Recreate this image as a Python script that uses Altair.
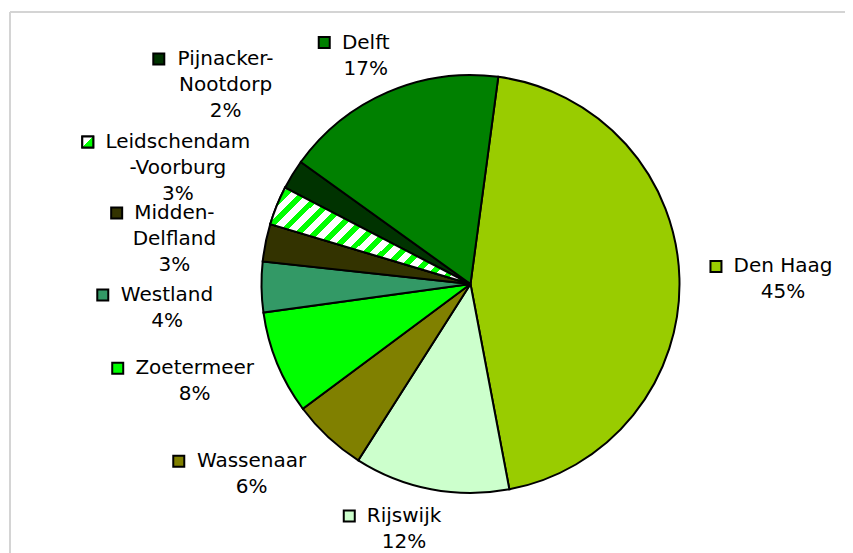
import math
import altair as alt
import pandas as pd

# ---------------- data ----------------
names = ["Den Haag", "Rijswijk", "Wassenaar", "Zoetermeer", "Westland",
         "Midden-Delfland", "Leidschendam-Voorburg", "Pijnacker-Nootdorp", "Delft"]
shares = [44.9, 12.0, 5.8, 8.0, 3.9, 2.9, 3.0, 2.3, 17.2]
label_names = ["Den Haag", "Rijswijk", "Wassenaar", "Zoetermeer", "Westland",
               "Midden-\nDelfland", "Leidschendam\n-Voorburg", "Pijnacker-\nNootdorp", "Delft"]

# ---------------- style / layout ----------------
colors = ["#99CC00", "#CCFFCC", "#808000", "#00FF00", "#339966",
          "#333300", "#FFFFFF", "#003300", "#008000"]
label_shift_deg = [0.7, 4.3, 6.1, 2.8, -3.7, -2.8, -0.4, 7.5, -1.3]
label_radius = [312.5, 253.9, 290, 292.5, 304.4, 299.5, 314.8, 315.6, 251.3]

W, H = 837, 545
CX, CY = 462.5, 276
R = 209
START = math.radians(7.64)
FS = 20
LH = 26
GREEN = "#00FF00"

# approximate DejaVu Sans advance widths (em)
EM = {' ': 0.318, '-': 0.361, '%': 0.950, 'A': 0.684, 'D': 0.770, 'H': 0.752,
      'L': 0.557, 'M': 0.863, 'N': 0.748, 'P': 0.603, 'R': 0.695, 'V': 0.684,
      'W': 0.989, 'Z': 0.685, 'a': 0.613, 'b': 0.635, 'c': 0.550, 'd': 0.635,
      'e': 0.615, 'f': 0.352, 'g': 0.635, 'h': 0.634, 'i': 0.278, 'j': 0.278,
      'k': 0.579, 'l': 0.278, 'm': 0.974, 'n': 0.634, 'o': 0.612, 'p': 0.635,
      'r': 0.411, 's': 0.521, 't': 0.392, 'u': 0.634, 'w': 0.818}


def text_width(s):
    return sum(EM.get(c, 0.636) for c in s) * FS


texts, w1, nlines = [], [], []
for lab, v in zip(label_names, shares):
    t = f"{lab}\n{round(v)}%"
    texts.append(t)
    w1.append(text_width(t.split("\n")[0]))
    nlines.append(len(t.split("\n")))

df = pd.DataFrame({
    "name": names,
    "value": shares,
    "order": list(range(len(names))),
    "text": texts,
    "w1": w1,
    "nlines": nlines,
    "shift": label_shift_deg,
    "r": label_radius,
})

color_scale = alt.Scale(domain=names, range=colors)
theta_scale = alt.Scale(domain=[0, 100], range=[START, START + 2 * math.pi])

base = alt.Chart(df)

pie = base.mark_arc(outerRadius=R, stroke="black", strokeWidth=2).encode(
    theta=alt.Theta("value:Q", stack=True, scale=theta_scale),
    order=alt.Order("order:Q"),
    color=alt.Color("name:N", scale=color_scale, legend=None),
    x=alt.value(CX),
    y=alt.value(CY),
)

# diagonal stripes for Leidschendam-Voorburg
N = 17
stops = []
for i in range(N):
    a, m, b = i / N, (i + 0.45) / N, (i + 1) / N
    stops += [alt.GradientStop(color=GREEN, offset=a),
              alt.GradientStop(color=GREEN, offset=m),
              alt.GradientStop(color="#FFFFFF", offset=m),
              alt.GradientStop(color="#FFFFFF", offset=b)]
stripe = alt.LinearGradient(gradient="linear", stops=stops, x1=0, y1=0, x2=1.2, y2=0.58)

stripes = base.mark_arc(outerRadius=R, stroke="black", strokeWidth=2, fill=stripe).encode(
    theta=alt.Theta("value:Q", stack=True, scale=theta_scale),
    order=alt.Order("order:Q"),
    opacity=alt.condition(alt.datum.name == "Leidschendam-Voorburg", alt.value(1), alt.value(0)),
    x=alt.value(CX),
    y=alt.value(CY),
)

lab = base.transform_window(
    cum="sum(value)", sort=[alt.SortField("order")], frame=[None, 0]
).transform_calculate(
    ang=f"{START} + 2*PI*(datum.cum - datum.value/2)/100 + datum.shift*PI/180"
).transform_calculate(
    lx=f"{CX} + datum.r*sin(datum.ang)",
    ly=f"{CY} - datum.r*cos(datum.ang)",
).transform_calculate(
    kx="datum.lx - datum.w1/2 - 11 - 6.5",
    ky=f"datum.ly - (datum.nlines-1)*{LH / 2}",
)

labels = lab.mark_text(
    font="DejaVu Sans", fontSize=FS, lineHeight=LH, lineBreak="\n",
    align="center", baseline="middle", color="black",
).encode(
    x=alt.X("lx:Q", scale=None, axis=None),
    y=alt.Y("ky:Q", scale=None, axis=None),
    text=alt.Text("text:N"),
)

keys = lab.mark_square(size=121, stroke="black", strokeWidth=2, opacity=1, filled=True).encode(
    x=alt.X("kx:Q", scale=None, axis=None),
    y=alt.Y("ky:Q", scale=None, axis=None),
    color=alt.Color("name:N", scale=color_scale, legend=None),
)

key_grad = alt.LinearGradient(
    gradient="linear",
    stops=[alt.GradientStop(color="#FFFFFF", offset=0),
           alt.GradientStop(color="#FFFFFF", offset=0.5),
           alt.GradientStop(color=GREEN, offset=0.5),
           alt.GradientStop(color=GREEN, offset=1)],
    x1=0, y1=0, x2=1, y2=1,
)
key_striped = lab.transform_filter(alt.datum.name == "Leidschendam-Voorburg").mark_square(
    size=121, stroke="black", strokeWidth=2, fill=key_grad, opacity=1
).encode(
    x=alt.X("kx:Q", scale=None, axis=None),
    y=alt.Y("ky:Q", scale=None, axis=None),
)

frame_top = alt.Chart(df).mark_rule(color="#d4d4d4", strokeWidth=2).encode(
    x=alt.value(2), x2=alt.value(W), y=alt.value(4)
)
frame_left = alt.Chart(df).mark_rule(color="#d4d4d4", strokeWidth=2).encode(
    x=alt.value(2), y=alt.value(4), y2=alt.value(H)
)

chart = alt.layer(frame_top, frame_left, pie, stripes, labels, keys, key_striped).properties(
    width=W, height=H, padding=0, autosize=alt.AutoSizeParams(type="none"),
    background="white",
).configure_view(stroke=None)

chart.save("out.html", embed_options={"renderer": "svg", "actions": False})
